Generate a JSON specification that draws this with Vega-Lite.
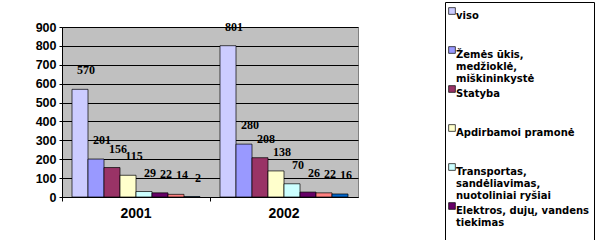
{
  "$schema": "https://vega.github.io/schema/vega-lite/v6.json",
  "autosize": "none",
  "width": 296,
  "height": 170,
  "padding": {"left": 62, "top": 27, "right": 239, "bottom": 43},
  "background": "white",
  "config": {
    "view": {"fill": "#C0C0C0", "stroke": "#808080"},
    "font": "Liberation Sans"
  },
  "data": {
    "values": [
      {"year": "2001", "sector": "viso", "value": 570},
      {"year": "2001", "sector": "Žemės ūkis, medžioklė, miškininkystė", "value": 201},
      {"year": "2001", "sector": "Statyba", "value": 156},
      {"year": "2001", "sector": "Apdirbamoi pramonė", "value": 115},
      {"year": "2001", "sector": "Transportas, sandėliavimas, nuotoliniai ryšiai", "value": 29},
      {"year": "2001", "sector": "Elektros, dujų, vandens tiekimas", "value": 22},
      {"year": "2001", "sector": "Prekyba", "value": 14},
      {"year": "2001", "sector": "Kitos veiklos", "value": 2},
      {"year": "2002", "sector": "viso", "value": 801},
      {"year": "2002", "sector": "Žemės ūkis, medžioklė, miškininkystė", "value": 280},
      {"year": "2002", "sector": "Statyba", "value": 208},
      {"year": "2002", "sector": "Apdirbamoi pramonė", "value": 138},
      {"year": "2002", "sector": "Transportas, sandėliavimas, nuotoliniai ryšiai", "value": 70},
      {"year": "2002", "sector": "Elektros, dujų, vandens tiekimas", "value": 26},
      {"year": "2002", "sector": "Prekyba", "value": 22},
      {"year": "2002", "sector": "Kitos veiklos", "value": 16}
    ]
  },
  "encoding": {
    "x": {
      "field": "year",
      "type": "nominal",
      "scale": {"paddingInner": 0, "paddingOuter": 0},
      "axis": {
        "title": null,
        "labelAngle": 0,
        "labelFont": "Liberation Sans",
        "labelFontWeight": "bold",
        "labelFontSize": 14,
        "labelColor": "black",
        "labelPadding": 5,
        "domainColor": "black",
        "tickColor": "black",
        "tickSize": 4,
        "bandPosition": 0
      }
    },
    "xOffset": {
      "field": "sector",
      "type": "nominal",
      "sort": null,
      "scale": {"paddingInner": 0, "paddingOuter": 0.625}
    },
    "y": {
      "field": "value",
      "type": "quantitative",
      "scale": {"domain": [0, 900]},
      "axis": {
        "title": null,
        "values": [0, 100, 200, 300, 400, 500, 600, 700, 800, 900],
        "labelFont": "Liberation Sans",
        "labelFontWeight": "bold",
        "labelFontSize": 12.5,
        "labelColor": "black",
        "domainColor": "black",
        "tickColor": "black",
        "tickSize": 3,
        "labelPadding": 3,
        "grid": true,
        "gridColor": "black",
        "gridWidth": 1
      }
    }
  },
  "layer": [
    {
      "mark": {"type": "bar", "stroke": "black", "strokeWidth": 0.7},
      "encoding": {
        "color": {
          "field": "sector",
          "type": "nominal",
          "sort": null,
          "scale": {
            "domain": ["viso", "Žemės ūkis, medžioklė, miškininkystė", "Statyba", "Apdirbamoi pramonė", "Transportas, sandėliavimas, nuotoliniai ryšiai", "Elektros, dujų, vandens tiekimas", "Prekyba", "Kitos veiklos"],
            "range": ["#CCCCFF", "#9999FF", "#993366", "#FFFFCC", "#CCFFFF", "#660066", "#FF8080", "#0066CC"]
          },
          "legend": {
            "title": null,
            "orient": "none",
            "legendX": 383,
            "legendY": -25,
            "values": ["viso", "Žemės ūkis, medžioklė, miškininkystė", "Statyba", "Apdirbamoi pramonė", "Transportas, sandėliavimas, nuotoliniai ryšiai", "Elektros, dujų, vandens tiekimas"],
            "labelExpr": "datum.label == 'Žemės ūkis, medžioklė, miškininkystė' ? ['Žemės ūkis,', 'medžioklė,', 'miškininkystė'] : datum.label == 'Transportas, sandėliavimas, nuotoliniai ryšiai' ? ['Transportas,', 'sandėliavimas,', 'nuotoliniai ryšiai'] : datum.label == 'Elektros, dujų, vandens tiekimas' ? ['Elektros, dujų, vandens', 'tiekimas', ' '] : [datum.label, ' ', ' ']",
            "labelFont": "DejaVu Sans",
            "labelFontWeight": "bold",
            "labelFontSize": 10,
            "labelColor": "black",
            "labelLimit": 200,
            "labelBaseline": "top",
            "labelOffset": -1,
            "symbolOffset": -2,
            "symbolType": "square",
            "symbolSize": 45,
            "symbolStrokeColor": "black",
            "symbolStrokeWidth": 0.7,
            "strokeColor": "black",
            "fillColor": "white",
            "padding": 4,
            "rowPadding": 0
          }
        }
      }
    },
    {
      "mark": {
        "type": "text",
        "font": "Liberation Serif",
        "fontWeight": "bold",
        "fontSize": 12,
        "color": "black",
        "dx": 6,
        "dy": -15,
        "baseline": "alphabetic"
      },
      "encoding": {
        "text": {"field": "value", "type": "quantitative"}
      }
    }
  ]
}
